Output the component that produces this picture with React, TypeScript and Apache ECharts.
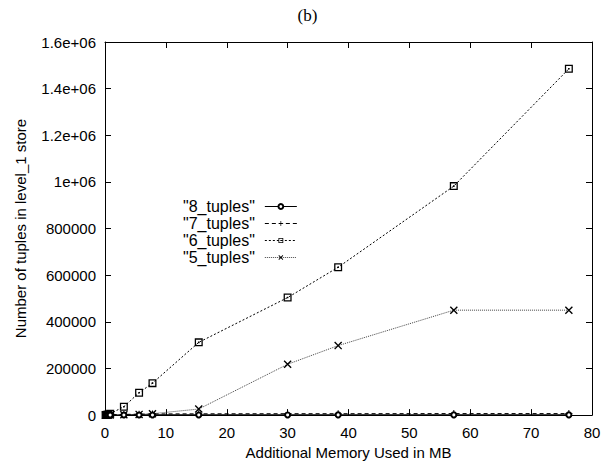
import React, { useEffect, useRef } from "react";
import * as echarts from "echarts";

const memoryMB = [0.1, 0.3, 0.55, 0.85, 3.1, 5.6, 7.8, 15.4, 30, 38.3, 57.3, 76.2];
const tuples8 = [100, 200, 300, 400, 500, 600, 700, 800, 800, 900, 900, 900];
const tuples7 = [200, 500, 1000, 1500, 3000, 4000, 5000, 5500, 6000, 6000, 6500, 6500];
const tuples6 = [500, 1500, 3000, 6000, 36000, 96000, 137000, 312000, 504000, 634000, 982000, 1485000];
const tuples5 = [0, 100, 200, 400, 1500, 3000, 6000, 26000, 218000, 298000, 450000, 450000];
const seriesNames = ['"8_tuples"', '"7_tuples"', '"6_tuples"', '"5_tuples"'];
const xTickLabels = ["0", "10", "20", "30", "40", "50", "60", "70", "80"];
const yTickLabels = ["0", "200000", "400000", "600000", "800000", "1e+06", "1.2e+06", "1.4e+06", "1.6e+06"];

const FONT = "'Liberation Sans', Arial, Helvetica, sans-serif";

const SYM_PLUS = "path://M4.3,0H5.7V4.3H10V5.7H5.7V10H4.3V5.7H0V4.3H4.3Z";
const SYM_SQUARE = "path://M0,0H10V10H0Z M1.6,1.6V8.4H8.4V1.6Z M4,4H6V6H4Z";
const SYM_CROSS = "path://M0,1.2L1.2,0L10,8.8L8.8,10Z M8.8,0L10,1.2L1.2,10L0,8.8Z";

export default function App() {
  const ref = useRef<HTMLDivElement>(null);
  useEffect(() => {
    if (!ref.current) return;
    const chart = echarts.init(ref.current, undefined, { renderer: "svg" });
    const pairs = (ys: number[]) => memoryMB.map((x, i) => [x, ys[i]]);
    const axisCommon = {
      type: "value" as const,
      axisLine: { show: true, onZero: false, lineStyle: { color: "#000", width: 1 } },
      axisTick: { show: true, inside: true, length: 6, lineStyle: { color: "#000" } },
      splitLine: { show: false },
    };
    chart.setOption({
      animation: false,
      backgroundColor: "#fff",
      title: {
        text: "(b)",
        left: "center",
        top: 2,
        textStyle: { fontFamily: "'Liberation Serif', 'Times New Roman', serif", fontSize: 17, fontWeight: "normal", color: "#000" },
      },
      grid: { left: 105, right: 23, top: 42, bottom: 46.5 },
      legend: {
        orient: "vertical",
        left: 183,
        top: 198,
        align: "right",
        padding: 0,
        itemGap: 0,
        itemWidth: 32,
        itemHeight: 6,
        lineStyle: { width: 1 },
        data: seriesNames,
        textStyle: { fontFamily: FONT, fontSize: 16, lineHeight: 17, color: "#000", padding: [0, 5, 0, 0] },
      },
      xAxis: [
        {
          ...axisCommon,
          position: "bottom",
          min: 0,
          max: 80,
          interval: 10,
          name: "Additional Memory Used in MB",
          nameLocation: "middle",
          nameGap: 26,
          nameTextStyle: { fontFamily: FONT, fontSize: 15, color: "#000" },
          axisLabel: {
            fontFamily: FONT,
            fontSize: 15,
            color: "#000",
            margin: 10,
            formatter: (v: number) => xTickLabels[Math.round(v / 10)] ?? String(v),
          },
        },
        { ...axisCommon, position: "top", min: 0, max: 80, interval: 10, axisLabel: { show: false } },
      ],
      yAxis: [
        {
          ...axisCommon,
          position: "left",
          min: 0,
          max: 1600000,
          interval: 200000,
          name: "Number of tuples in level_1 store",
          nameLocation: "middle",
          nameGap: 77,
          nameTextStyle: { fontFamily: FONT, fontSize: 15, color: "#000" },
          axisLabel: {
            fontFamily: FONT,
            fontSize: 15,
            color: "#000",
            margin: 9,
            formatter: (v: number) => yTickLabels[Math.round(v / 200000)] ?? String(v),
          },
        },
        { ...axisCommon, position: "right", min: 0, max: 1600000, interval: 200000, axisLabel: { show: false } },
      ],
      series: [
        {
          name: seriesNames[0],
          type: "line",
          data: pairs(tuples8),
          symbol: "emptyCircle",
          symbolSize: 5,
          lineStyle: { color: "#000", width: 1.2, type: "solid" },
          itemStyle: { color: "#000", borderColor: "#000", borderWidth: 1 },
          z: 4,
        },
        {
          name: seriesNames[1],
          type: "line",
          data: pairs(tuples7),
          symbol: SYM_PLUS,
          symbolSize: 7,
          lineStyle: { color: "#000", width: 1, type: [4, 3] },
          itemStyle: { color: "#000" },
          z: 3,
        },
        {
          name: seriesNames[2],
          type: "line",
          data: pairs(tuples6),
          symbol: SYM_SQUARE,
          symbolSize: 8,
          lineStyle: { color: "#000", width: 1, type: [2, 2] },
          itemStyle: { color: "#000" },
          z: 2,
        },
        {
          name: seriesNames[3],
          type: "line",
          data: pairs(tuples5),
          symbol: SYM_CROSS,
          symbolSize: 8,
          lineStyle: { color: "#444", width: 1, type: [1, 1] },
          itemStyle: { color: "#000" },
          z: 1,
        },
      ],
    });
    return () => chart.dispose();
  }, []);
  return <div ref={ref} style={{ position: "fixed", left: 0, top: 0, width: 615, height: 465 }} />;
}
